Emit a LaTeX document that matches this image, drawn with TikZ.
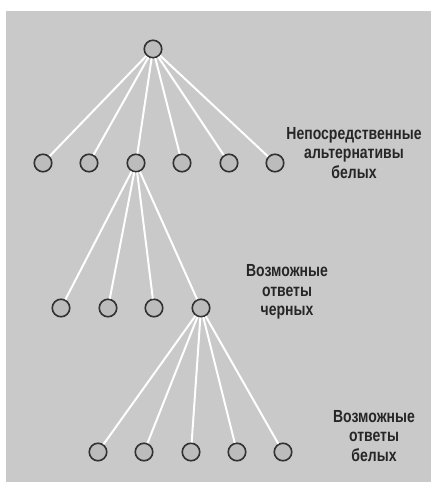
\documentclass[tikz,border=0pt]{standalone}
\usepackage{fontspec}
\usepackage{xcolor}
\usepackage{tikz}
\usetikzlibrary{positioning,calc}
\newfontfamily\labfont{Liberation Sans}[FakeStretch=0.8]
\definecolor{sheet}{RGB}{201,201,201}
\definecolor{disc}{RGB}{188,188,188}
\definecolor{rim}{RGB}{50,50,50}

\begin{document}
\begin{tikzpicture}[x=1pt, y=-1pt,
  spot/.style={circle, draw=rim, line width=1.6pt, fill=disc, minimum size=17.5pt, inner sep=0pt},
  move/.style={white, line width=2pt},
  lab/.style={align=center, text=black!85, font=\labfont\bfseries\fontsize{17.5}{19.5}\selectfont},
]
  \useasboundingbox (0,0) rectangle (431,482);
  \fill[sheet] (6,11) rectangle (431,482);

  % Root and the first moves of white.
  \node[spot] (root) at (153,49) {};
  \foreach \i/\x in {1/43, 2/89, 3/136, 4/182, 5/229, 6/275}
    \node[spot] (w\i) at (\x,163) {};
  \foreach \i in {1,...,6}
    \draw[move] (root) -- (w\i);
  \node[lab] (wlab) at (354,153) {Непосредственные\\альтернативы\\белых};

  % Replies of black to the third move.
  \foreach \i/\x in {1/61, 2/108, 3/154, 4/201}
    \node[spot] (b\i) at (\x,308) {};
  \foreach \i in {1,...,4}
    \draw[move] (w3) -- (b\i);
  \node[lab] (blab) at (287,292) {Возможные\\ответы\\черных};

  % Replies of white to the fourth reply.
  \foreach \i/\x in {1/98, 2/144, 3/191, 4/237, 5/283}
    \node[spot] (r\i) at (\x,452) {};
  \foreach \i in {1,...,5}
    \draw[move] (b4) -- (r\i);
  \node[lab] (rlab) at (374,436) {Возможные\\ответы\\белых};
\end{tikzpicture}
\end{document}
